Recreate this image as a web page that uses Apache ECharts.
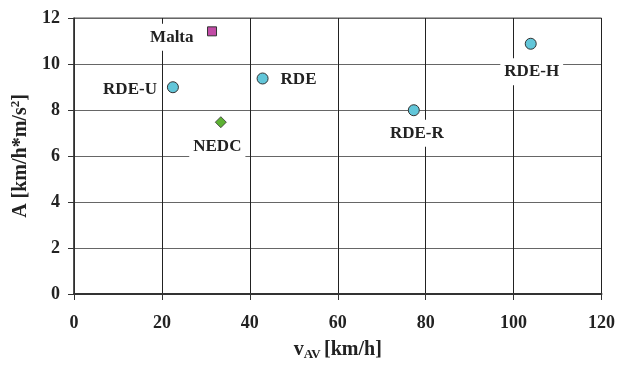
<!DOCTYPE html>
<html>
<head>
<meta charset="utf-8">
<script src="https://cdn.jsdelivr.net/npm/echarts@6/dist/echarts.min.js"></script>
<style>html,body{margin:0;padding:0;background:#fff;}#c{width:618px;height:370px;}</style>
</head>
<body>
<div id="c"></div>
<script>
// ---- data ----
const rdeNames = ['RDE-U', 'RDE', 'RDE-R', 'RDE-H'];
const rdeV = [22.5, 42.9, 77.3, 103.9];
const rdeA = [8.99, 9.37, 7.99, 10.88];
const nedcNames = ['NEDC'];
const nedcV = [33.4];
const nedcA = [7.47];
const maltaNames = ['Malta'];
const maltaV = [31.4];
const maltaA = [11.42];
const xTicks = [0, 20, 40, 60, 80, 100, 120];
const yTicks = [0, 2, 4, 6, 8, 10, 12];

// ---- label placement (style) ----
const place = {
  'RDE-U': {position: 'left', distance: 6, offset: [0, 2]},
  'RDE':   {position: 'right', distance: 8, offset: [0, 1.5]},
  'RDE-R': {position: 'bottom', distance: 3.5, offset: [3, 0]},
  'RDE-H': {position: 'bottom', distance: 8.5, offset: [1, 0]},
  'NEDC':  {position: 'bottom', distance: 5.5, offset: [-3.5, 0]},
  'Malta': {position: 'left', distance: 9.5, offset: [0, 6]}
};

const FONT = '"Liberation Serif", "Times New Roman", serif';
const labelBase = {
  show: true,
  formatter: p => p.name,
  color: '#222',
  fontFamily: FONT,
  fontWeight: 'bold',
  fontSize: 17,
  backgroundColor: '#fff',
  padding: [5, 4]
};

function build(names, xs, ys) {
  return names.map((n, i) => ({
    name: n,
    value: [xs[i], ys[i]],
    label: Object.assign({}, labelBase, place[n])
  }));
}

const chart = echarts.init(document.getElementById('c'), null, {renderer: 'canvas'});
chart.setOption({
  animation: false,
  backgroundColor: '#fff',
  grid: {
    left: 74, right: 15, top: 18, bottom: 76,
    show: true, borderColor: '#555', borderWidth: 1
  },
  xAxis: {
    type: 'value', min: xTicks[0], max: xTicks[xTicks.length - 1], interval: 20,
    name: '{v|v}{sub|AV} {v|[km/h]}',
    nameLocation: 'middle', nameGap: 44,
    nameTextStyle: {
      rich: {
        v: {fontFamily: FONT, fontWeight: 'bold', fontSize: 20, color: '#222'},
        sub: {fontFamily: FONT, fontWeight: 'bold', fontSize: 13, color: '#222', verticalAlign: 'bottom', padding: [10, 0, 0, 0]}
      }
    },
    axisLine: {show: true, lineStyle: {color: '#333', width: 2}},
    axisTick: {show: true, inside: false, length: 6, lineStyle: {color: '#333'}},
    axisLabel: {margin: 20, fontFamily: FONT, fontWeight: 'bold', fontSize: 18, color: '#222'},
    splitLine: {show: true, lineStyle: {color: '#222', width: 1}}
  },
  yAxis: {
    type: 'value', min: yTicks[0], max: yTicks[yTicks.length - 1], interval: 2,
    name: '{v|A [km/h*m/s}{sup|2}{v|]}',
    nameLocation: 'middle', nameGap: 41,
    nameTextStyle: {
      rich: {
        v: {fontFamily: FONT, fontWeight: 'bold', fontSize: 20, color: '#222'},
        sup: {fontFamily: FONT, fontWeight: 'bold', fontSize: 13, color: '#222', verticalAlign: 'top', padding: [0, 0, 10, 0]}
      }
    },
    axisLine: {show: true, lineStyle: {color: '#333', width: 1.5}},
    axisTick: {show: true, inside: false, length: 6, lineStyle: {color: '#333'}},
    axisLabel: {margin: 14, fontFamily: FONT, fontWeight: 'bold', fontSize: 18, color: '#222'},
    splitLine: {show: true, lineStyle: {color: '#666', width: 1}}
  },
  series: [
    {
      type: 'scatter', name: 'RDE', symbol: 'circle', symbolSize: 11,
      itemStyle: {color: '#62C6D9', borderColor: '#333', borderWidth: 1, opacity: 1},
      data: build(rdeNames, rdeV, rdeA), z: 3
    },
    {
      type: 'scatter', name: 'NEDC', symbol: 'diamond', symbolSize: 11,
      itemStyle: {color: '#5DB233', borderColor: '#333', borderWidth: 0.8, opacity: 1},
      data: build(nedcNames, nedcV, nedcA), z: 3
    },
    {
      type: 'scatter', name: 'Malta', symbol: 'rect', symbolSize: 9,
      itemStyle: {color: '#C24BA6', borderColor: '#333', borderWidth: 1, opacity: 1},
      data: build(maltaNames, maltaV, maltaA), z: 3
    }
  ]
});
</script>
</body>
</html>
